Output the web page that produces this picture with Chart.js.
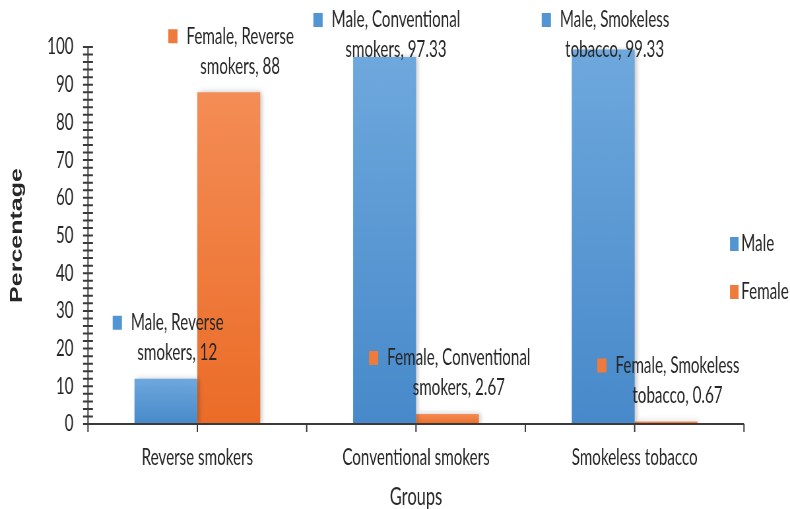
<!DOCTYPE html>
<html lang="en">
<head>
  <meta charset="UTF-8">
  <title>Smoking groups by sex</title>
  <script src="https://cdn.jsdelivr.net/npm/chart.js"></script>
  <style>
    html, body { margin: 0; padding: 0; background: #fff; overflow: hidden; }
    /* the original picture is squeezed sideways, so the chart is drawn wide and squeezed back */
    #wrap { position: absolute; left: 0; top: 0; width: 1197px; height: 509px;
            transform: scaleX(0.65998); transform-origin: 0 0; }
  </style>
</head>
<body>

  <div id="wrap"><canvas id="groupsChart"></canvas></div>

  <script>
    const W = 1197;
    const SX = 790 / W;

    // data
    const groups = ['Reverse smokers', 'Conventional smokers', 'Smokeless tobacco'];
    const seriesNames = ['Male', 'Female'];
    const maleValues = [12, 97.33, 99.33];
    const femaleValues = [88, 2.67, 0.67];
    const yMin = 0, yMax = 100, yStep = 10, yMinorStep = 2;

    const FONT = 'Lato, "Open Sans", sans-serif';
    const FS = 23;
    const textColor = '#262626';
    const axisColor = '#3a3a3a';
    const solid = ['#5196D3', '#EE7A3C'];
    const topColor = ['#6EA8DD', '#F48D56'];
    const bottomColor = ['#4789CA', '#EB6C27'];

    Chart.defaults.font.family = FONT;
    Chart.defaults.color = textColor;

    function barFill(i) {
      return function (context) {
        const chart = context.chart;
        if (!chart.chartArea || context.parsed == null) return solid[i];
        const yScale = chart.scales.y;
        const top = yScale.getPixelForValue(context.parsed.y);
        const bottom = yScale.getPixelForValue(0);
        if (!isFinite(top) || bottom - top < 1) return solid[i];
        const g = chart.ctx.createLinearGradient(0, top, 0, bottom);
        g.addColorStop(0, topColor[i]);
        g.addColorStop(1, bottomColor[i]);
        return g;
      };
    }

    // soft shadow to the right of each bar
    const barShadow = {
      id: 'barShadow',
      beforeDatasetDraw(chart) {
        const c = chart.ctx;
        c.save();
        c.shadowColor = 'rgba(0,0,0,0.22)';
        c.shadowBlur = 6;
        c.shadowOffsetX = 3;
      },
      afterDatasetDraw(chart) {
        chart.ctx.restore();
      }
    };

    // axis lines with ladder ticks on y and small drop ticks on x
    const axes = {
      id: 'axes',
      afterDatasetsDraw(chart) {
        const c = chart.ctx;
        const a = chart.chartArea;
        const x = chart.scales.x, y = chart.scales.y;
        const drop = 8;
        c.save();
        c.strokeStyle = axisColor;
        c.lineWidth = 2;
        c.beginPath();
        c.moveTo(a.left, y.getPixelForValue(yMax));
        c.lineTo(a.left, a.bottom + drop);
        c.moveTo(a.left, a.bottom);
        c.lineTo(a.right, a.bottom);
        for (let v = yMin; v <= yMax; v += yMinorStep) {
          const py = y.getPixelForValue(v);
          c.moveTo(a.left - 7.5, py);
          c.lineTo(a.left + 7.5, py);
        }
        for (let i = 0; i < groups.length; i++) {
          [i - 0.5, i, i + 0.5].forEach(function (d) {
            const px = x.getPixelForDecimal((d + 0.5) / groups.length);
            c.moveTo(px, a.bottom);
            c.lineTo(px, a.bottom + drop);
          });
        }
        c.stroke();
        c.restore();
      }
    };

    // "Series, Category, value" notes above every bar
    const notes = {
      id: 'notes',
      afterDatasetsDraw(chart) {
        const c = chart.ctx;
        c.save();
        c.font = FS + 'px ' + FONT;
        c.textBaseline = 'middle';
        c.textAlign = 'center';
        chart.data.datasets.forEach(function (ds, di) {
          chart.getDatasetMeta(di).data.forEach(function (bar, i) {
            const cat = chart.data.labels[i];
            const cut = cat.indexOf(' ');
            const line1 = ds.label + ', ' + cat.slice(0, cut);
            const line2 = cat.slice(cut + 1) + ', ' + ds.data[i];
            const w1 = c.measureText(line1).width;
            const sq = 14, gap = 13.5;
            const left = bar.x + 3.5 - (sq + gap + w1) / 2;
            const y1 = Math.max(bar.y - 56, 20);
            c.fillStyle = solid[di];
            c.fillRect(left, y1 - 7, sq, sq);
            const tx = left + sq + gap + w1 / 2;
            c.fillStyle = textColor;
            c.fillText(line1, tx, y1);
            c.fillText(line2, tx, y1 + 30);
          });
        });
        c.restore();
      }
    };

    // legend sitting at the right edge, over the end of the plot
    const sideLegend = {
      id: 'sideLegend',
      afterDraw(chart) {
        const c = chart.ctx;
        const lx = 730 / SX;
        c.save();
        c.font = FS + 'px ' + FONT;
        c.textBaseline = 'middle';
        c.textAlign = 'left';
        chart.data.datasets.forEach(function (ds, di) {
          const ly = 244 + di * 48;
          c.fillStyle = solid[di];
          c.fillRect(lx, ly - 7, 13, 14);
          c.fillStyle = textColor;
          c.fillText(ds.label, lx + 17, ly);
        });
        c.restore();
      }
    };

    const ctx = document.getElementById('groupsChart').getContext('2d');
    new Chart(ctx, {
      type: 'bar',
      data: {
        labels: groups,
        datasets: [
          { label: seriesNames[0], data: maleValues, backgroundColor: barFill(0) },
          { label: seriesNames[1], data: femaleValues, backgroundColor: barFill(1) }
        ]
      },
      options: {
        responsive: true,
        maintainAspectRatio: false,
        animation: false,
        layout: { padding: { left: 0, top: 47, right: W - 744 / SX, bottom: 0 } },
        datasets: { bar: { categoryPercentage: 0.575, barPercentage: 1 } },
        plugins: {
          legend: { display: false },
          tooltip: { enabled: false }
        },
        scales: {
          x: {
            grid: { display: false, drawTicks: false },
            border: { display: false },
            ticks: { font: { size: FS }, color: textColor, padding: 20, maxRotation: 0 },
            title: {
              display: true, text: 'Groups', color: textColor,
              font: { size: 25, lineHeight: 1 }, padding: { top: 0, bottom: 0 }
            },
            afterFit(scale) { scale.height = 85; }
          },
          y: {
            min: yMin, max: yMax,
            grid: { display: false, drawTicks: false },
            border: { display: false },
            ticks: { stepSize: yStep, font: { size: FS }, color: textColor, padding: 22 },
            title: {
              display: true, text: 'Percentage', color: textColor,
              font: { family: '"Liberation Sans", Arial, sans-serif', size: 25, weight: 'bold', lineHeight: 1.2 },
              padding: { top: 11, bottom: 0 }
            },
            afterFit(scale) { scale.width = 88 / SX; }
          }
        }
      },
      plugins: [barShadow, axes, notes, sideLegend]
    });
  </script>

</body>
</html>
